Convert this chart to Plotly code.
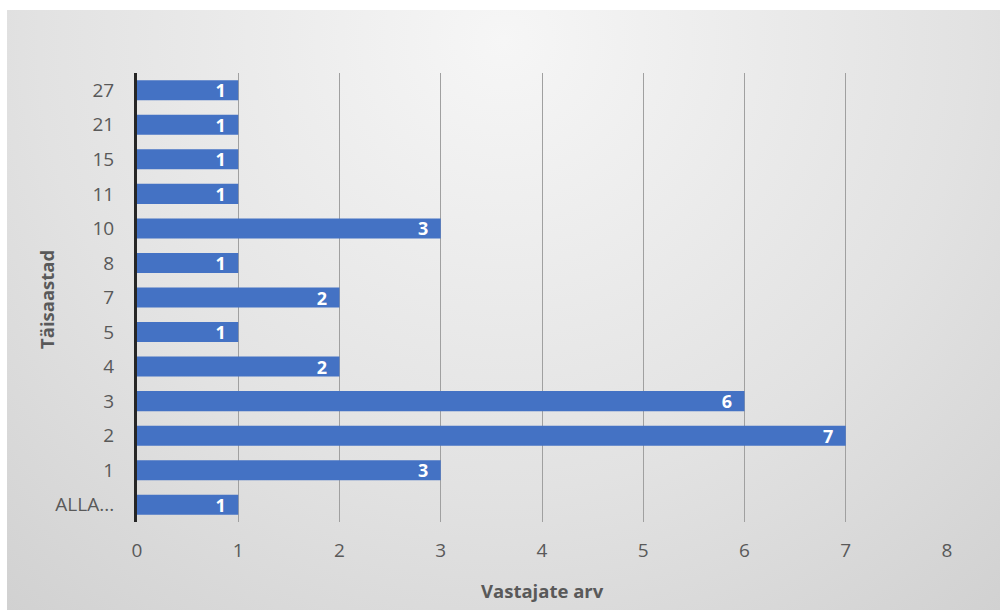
import base64
import plotly.graph_objects as go

categories = ["ALLA...", "1", "2", "3", "4", "5", "7", "8", "10", "11", "15", "21", "27"]
values = [1, 3, 7, 6, 2, 1, 2, 1, 3, 1, 1, 1, 1]
x_ticks = [0, 1, 2, 3, 4, 5, 6, 7, 8]

W, H = 1003, 610
ML, MR, MT, MB = 137, 56, 73, 88
PW, PH = W - ML - MR, H - MT - MB

def px_x(p):
    return (p - ML) / PW

def px_y(p):
    return (H - MB - p) / PH

svg = (
    '<svg xmlns="http://www.w3.org/2000/svg" width="993" height="600" preserveAspectRatio="none" viewBox="0 0 993 600">'
    '<defs><radialGradient id="g" cx="0.5" cy="0.05" r="0.85" gradientTransform="translate(0.5,0.05) scale(1,1.6) translate(-0.5,-0.05)">'
    '<stop offset="0" stop-color="#f6f6f6"/><stop offset="0.55" stop-color="#e2e2e2"/>'
    '<stop offset="1" stop-color="#cdcdcd"/></radialGradient></defs>'
    '<rect width="993" height="600" fill="url(#g)"/></svg>'
)
src = "data:image/svg+xml;base64," + base64.b64encode(svg.encode()).decode()

font_fam = "Open Sans"

fig = go.Figure()
fig.add_trace(go.Bar(
    y=categories, x=values, orientation="h",
    marker=dict(color="#4472C4", line=dict(width=0)),
    width=0.58,
    text=[f"{v}\u00a0\u00a0" for v in values],
    textposition="inside", insidetextanchor="end", textangle=0,
    textfont=dict(color="white", size=18, family=font_fam, weight="bold"),
    constraintext="none",
    cliponaxis=False,
))

fig.update_layout(
    width=W, height=H,
    margin=dict(l=ML, r=MR, t=MT, b=MB, pad=0),
    paper_bgcolor="white", plot_bgcolor="rgba(0,0,0,0)",
    showlegend=False,
    bargap=0.42,
    images=[dict(source=src, xref="paper", yref="paper",
                 x=px_x(7), y=px_y(10), sizex=px_x(1000) - px_x(7), sizey=px_y(10) - px_y(610),
                 sizing="stretch", layer="below", xanchor="left", yanchor="top")],
    xaxis=dict(range=[0, 8], tickvals=x_ticks, ticktext=[str(t) for t in x_ticks],
               showgrid=True, gridcolor="#a0a0a0", gridwidth=1, zeroline=False,
               showline=False, ticks="", ticklabelstandoff=15,
               tickfont=dict(size=19, color="#595959", family=font_fam), fixedrange=True),
    yaxis=dict(categoryorder="array", categoryarray=categories,
               showgrid=False, zeroline=False, showline=True, linecolor="#262626", linewidth=3,
               ticks="", ticklabelstandoff=16,
               tickfont=dict(size=19, color="#595959", family=font_fam), fixedrange=True),
    annotations=[
        dict(text="<b>Vastajate arv</b>", xref="paper", yref="paper", x=px_x(542), y=px_y(590),
             showarrow=False, font=dict(size=18.5, color="#595959", family=font_fam),
             xanchor="center", yanchor="middle"),
        dict(text="<b>Täisaastad</b>", xref="paper", yref="paper", x=px_x(46), y=px_y(300),
             showarrow=False, textangle=-90, font=dict(size=18.5, color="#595959", family=font_fam),
             xanchor="center", yanchor="middle"),
    ],
)

fig.write_html("out.html")
